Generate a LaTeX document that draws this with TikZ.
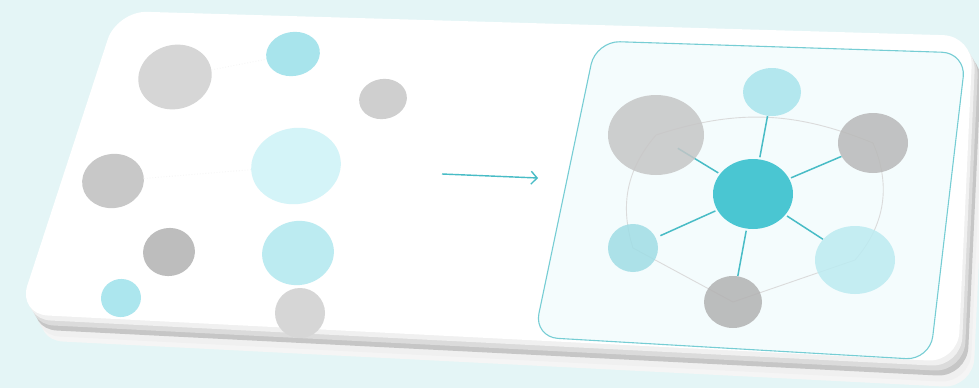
\documentclass[tikz,border=0pt]{standalone}
\definecolor{BgCyan}{RGB}{228,245,246}
\definecolor{HubTeal}{RGB}{74,198,210}
\definecolor{LineTeal}{RGB}{72,188,198}
\definecolor{PaleCyan}{RGB}{244,252,253}
\definecolor{SkyBlob}{RGB}{168,228,236}
\definecolor{MistBlob}{RGB}{212,244,248}
\definecolor{IceBlob}{RGB}{188,235,241}
\definecolor{AquaBlob}{RGB}{172,230,238}
\definecolor{SeaBlob}{RGB}{160,221,229}
\usepackage{tikz}
\usetikzlibrary{arrows.meta,positioning,shapes.geometric}
\pgfdeclarelayer{card}
\pgfdeclarelayer{links}
\pgfsetlayers{card,links,main}

\begin{document}
\begin{tikzpicture}[
      x=1pt, y=-1pt,
      blob/.style={ellipse, inner sep=0pt, draw=none},
      outer/.style={blob, fill opacity=0.85},
      spoke/.style={LineTeal, line width=1.5pt, shorten <=2pt},
      ring/.style={gray!28, line width=0.9pt},
      faint/.style={gray!8, dotted, line width=0.8pt},
      arr/.style={-{Straight Barb[length=6pt, width=13pt]}, line width=1.4pt, LineTeal}
    ]
      \useasboundingbox (0,0) rectangle (979,388);

      % left: scattered items
      \node[blob, fill=gray!32, minimum width=74pt, minimum height=64pt, rotate=15] (l1) at (175,77) {};
      \node[blob, fill=SkyBlob, minimum width=54pt, minimum height=44pt, rotate=10] (l2) at (293,54) {};
      \node[blob, fill=gray!38, minimum width=48pt, minimum height=40pt, rotate=10] (l3) at (383,99) {};
      \node[blob, fill=gray!43, minimum width=62pt, minimum height=54pt, rotate=10] (l4) at (113,181) {};
      \node[blob, fill=MistBlob, minimum width=90pt, minimum height=76pt, rotate=10] (l5) at (296,166) {};
      \node[blob, fill=gray!52, minimum width=52pt, minimum height=48pt, rotate=10] (l6) at (169,252) {};
      \node[blob, fill=IceBlob, minimum width=72pt, minimum height=64pt, rotate=10] (l7) at (298,253) {};
      \node[blob, fill=AquaBlob, minimum width=40pt, minimum height=38pt, rotate=10] (l8) at (121,298) {};
      \node[blob, fill=gray!32, minimum width=50pt, minimum height=50pt] (l9) at (300,313) {};

      \coordinate (a0) at (442,174);
      \coordinate (a1) at (538,178);
      \draw[arr] (a0) -- (a1);

      % right: the same items as one network
      \node[blob, fill=HubTeal, minimum width=80pt, minimum height=70pt] (hub) at (753,194) {};
      \node[outer, fill=SkyBlob, minimum width=58pt, minimum height=48pt] (top) at (772,92) {};
      \node[outer, fill=gray!45, minimum width=96pt, minimum height=80pt] (tl) at (656,135) {};
      \node[outer, fill=gray!55, minimum width=70pt, minimum height=60pt] (rt) at (873,143) {};
      \node[outer, fill=SeaBlob, minimum width=50pt, minimum height=48pt] (lf) at (633,248) {};
      \node[outer, fill=gray!60, minimum width=58pt, minimum height=52pt] (bt) at (733,302) {};
      \node[outer, fill=IceBlob, minimum width=80pt, minimum height=68pt] (br) at (855,260) {};

      \begin{pgfonlayer}{links}
        \draw[faint] (l1) -- (l2);
        \draw[faint] (l4) -- (l5);
        \draw[ring] (tl.center) to[bend left=20] (rt.center) to[bend left=32] (br.center)
          -- (bt.center) -- (lf.center) to[bend left=29] (tl.center);
        \draw[spoke] (hub) -- (top);
        \draw[spoke, shorten >=-20pt] (hub) -- (tl);
        \draw[spoke] (hub) -- (rt);
        \draw[spoke, shorten >=5pt] (hub) -- (lf);
        \draw[spoke] (hub) -- (bt);
        \draw[spoke] (hub) -- (br);
      \end{pgfonlayer}

      \begin{pgfonlayer}{card}
        \fill[BgCyan] (0,0) rectangle (979,388);
        \foreach \dx/\dy/\shade in {15/26/black!4, 12/21/black!6, 9/15/gray!45, 6/10/gray!28, 3/5/gray!12, 0/0/white}
          \fill[\shade, shift={(\dx,\dy)}, rounded corners=30pt]
            (117,11) -- (973,36) -- (958,362) -- (18,314) -- cycle;
        \filldraw[fill=PaleCyan, draw=LineTeal!75, line width=1.1pt, rounded corners=24pt]
          (596,41) -- (966,53) -- (930,360) -- (534,337) -- cycle;
      \end{pgfonlayer}
    \end{tikzpicture}
\end{document}
